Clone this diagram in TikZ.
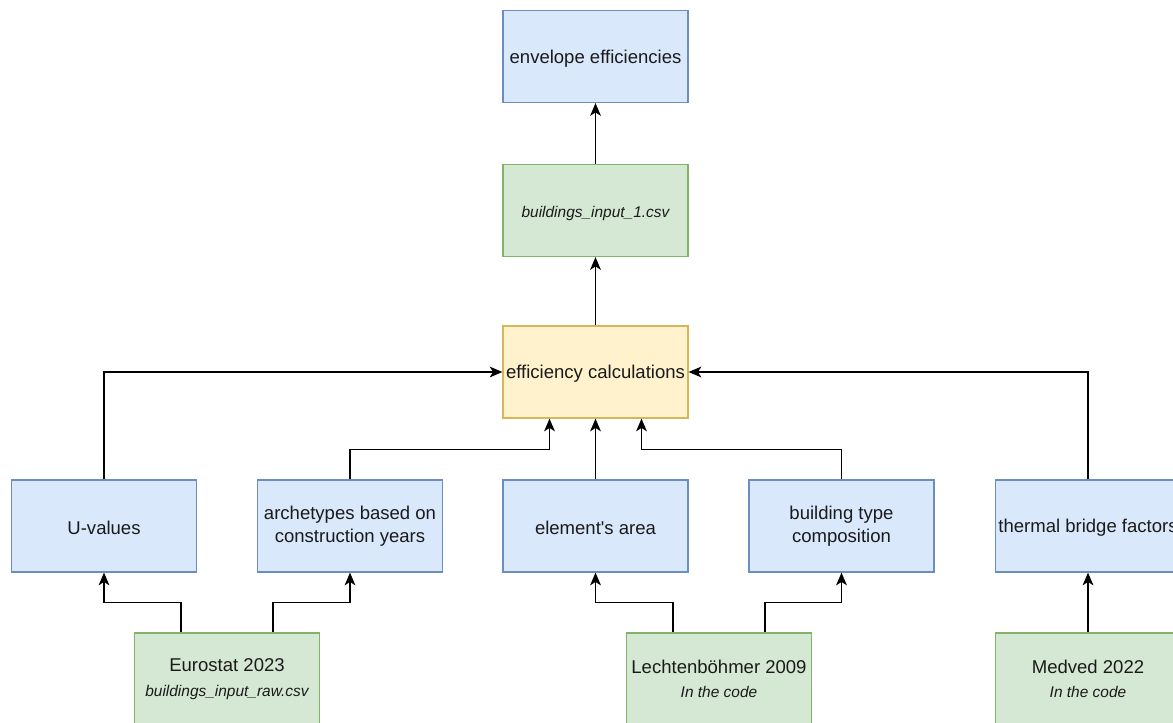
\documentclass[tikz,border=0pt]{standalone}
\usepackage{fontspec}
\setmainfont{Liberation Sans}[Ligatures=TeXOff]
\usetikzlibrary{arrows.meta}
\definecolor{bluefill}{HTML}{DAE8FC}
\definecolor{bluedraw}{HTML}{6C8EBF}
\definecolor{greenfill}{HTML}{D5E8D4}
\definecolor{greendraw}{HTML}{82B366}
\definecolor{yellowfill}{HTML}{FFF2CC}
\definecolor{yellowdraw}{HTML}{D6B656}
\definecolor{ink}{HTML}{1A1A1A}
\tikzset{
  box/.style={rectangle, minimum width=138.75pt, minimum height=69pt, inner sep=0pt,
    line width=0.9pt, align=center, text=ink,
    font=\fontsize{13.9}{17.25}\selectfont,
    execute at begin node={\rule{0pt}{13pt}}},
  bluebox/.style={box, fill=bluefill, draw=bluedraw},
  greenbox/.style={box, fill=greenfill, draw=greendraw},
  yellowbox/.style={box, fill=yellowfill, draw=yellowdraw},
  link/.style={line width=1.35pt, draw=black, -{Stealth[length=9.5pt, width=8pt, inset=2.5pt]}}
}
\newcommand{\srcline}[2]{#1\\[1pt]{\fontsize{11.6}{14}\selectfont\itshape #2}}
\begin{document}
\begin{tikzpicture}[x=0.75pt, y=-0.75pt]
  \useasboundingbox (0,0) rectangle (1173,723);
  \clip (0,0) rectangle (1173,723);

  % top chain
  \node[bluebox] (env) at (595.5,56.5) {envelope efficiencies};
  \node[greenbox] (csv) at (595.5,210.5) {{\fontsize{11.6}{14}\selectfont\itshape buildings\_input\_1.csv}};
  \node[yellowbox] (eff) at (595.5,372) {efficiency calculations};

  % intermediate quantities
  \node[bluebox] (uval) at (104,526) {U-values};
  \node[bluebox] (arch) at (350,526) {archetypes based on\\construction years};
  \node[bluebox] (area) at (595.5,526) {element's area};
  \node[bluebox] (btype) at (841.5,526) {building type\\composition};
  \node[bluebox] (tbf) at (1088,526) {thermal bridge factors};

  % data sources
  \node[greenbox] (euro) at (227,679) {\srcline{Eurostat 2023}{buildings\_input\_raw.csv}};
  \node[greenbox] (lech) at (719,679) {\srcline{Lechtenböhmer 2009}{In the code}};
  \node[greenbox] (med) at (1088,679) {\srcline{Medved 2022}{In the code}};

  % flow upwards
  \draw[link] (csv) -- (env);
  \draw[link] (eff) -- (csv);
  \draw[link] (uval.north) |- (eff.west);
  \draw[link] (tbf.north) |- (eff.east);
  \draw[link] (arch.north) -- ++(0,-30) -| ([xshift=-34.5pt]eff.south);
  \draw[link] (area) -- (eff);
  \draw[link] (btype.north) -- ++(0,-30) -| ([xshift=34.5pt]eff.south);

  \draw[link] ([xshift=-34.5pt]euro.north) -- ++(0,-30) -| (uval.south);
  \draw[link] ([xshift=34.5pt]euro.north) -- ++(0,-30) -| (arch.south);
  \draw[link] ([xshift=-34.5pt]lech.north) -- ++(0,-30) -| (area.south);
  \draw[link] ([xshift=34.5pt]lech.north) -- ++(0,-30) -| (btype.south);
  \draw[link] (med) -- (tbf);
\end{tikzpicture}
\end{document}
